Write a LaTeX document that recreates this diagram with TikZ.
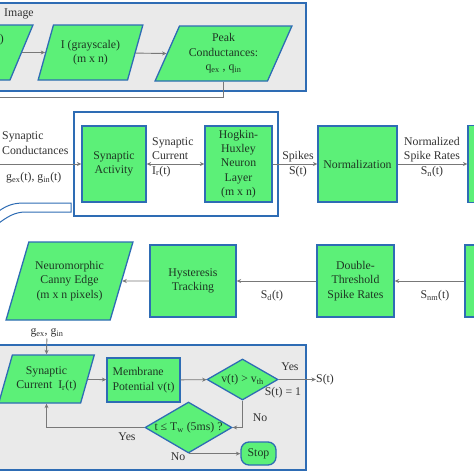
\documentclass[tikz,border=0pt]{standalone}
\usepackage{fontspec}
\setmainfont{Liberation Serif}
\usetikzlibrary{shapes.geometric,arrows.meta}
\definecolor{bgreen}{RGB}{92,240,120}
\definecolor{bblue}{RGB}{46,108,180}
\definecolor{pgray}{RGB}{234,234,234}
\definecolor{agray}{RGB}{120,120,120}
\definecolor{txtg}{RGB}{30,55,35}
\definecolor{txtd}{RGB}{50,50,50}
\tikzset{
  box/.style={rectangle, draw=bblue, fill=bgreen, line width=1.3pt, text=txtg, align=center, inner sep=0pt},
  para/.style={trapezium, trapezium stretches=true, trapezium left angle=64, trapezium right angle=116,
    draw=bblue, fill=bgreen, line width=1.3pt, text=txtg, align=center, inner sep=0pt},
  panel/.style={rectangle, draw=bblue, fill=pgray, line width=1.3pt, inner sep=0pt},
  grpbox/.style={rectangle, draw=bblue, line width=1.3pt, inner sep=0pt},
  arr/.style={draw=agray, line width=0.9pt, -{Stealth[length=4.5pt,width=4pt]}},
  darr/.style={draw=agray, line width=0.9pt, {Stealth[length=4.5pt,width=4pt]}-{Stealth[length=4.5pt,width=4pt]}},
  lnk/.style={draw=agray, line width=0.9pt},
  lbl/.style={text=txtd, align=center, inner sep=1pt},
  dia/.style={diamond, draw=bblue, fill=bgreen, line width=1.3pt, inner sep=0pt},
  stopbox/.style={rectangle, rounded corners=8pt, draw=bblue, fill=bgreen, line width=1.3pt, text=txtg, inner sep=0pt},
}
\begin{document}
\begin{tikzpicture}[x=1pt,y=-1pt,font=\fontsize{11.8}{14.4}\selectfont]
\useasboundingbox (0,0) rectangle (474,474);
\fill[white] (0,0) rectangle (474,474);

% ---------- top panel ----------
\node[panel, minimum width=316pt, minimum height=88pt] (ptop) at (148,47) {};
\node[lbl, anchor=west] (imglbl) at (3,14) {Image};
\node[para, minimum width=110pt, minimum height=55pt] (p0) at (-22,52.5) {\phantom{M}};
\node[lbl, text=txtg, anchor=east, inner sep=0pt] (p0txt) at (4,40) {)};
\node[para, minimum width=105pt, minimum height=55pt] (img) at (90.5,52.5) {I (grayscale)\\(m x n)};
\node[para, minimum width=137pt, minimum height=55pt] (peak) at (223.5,53.5) {Peak\\Conductances:\\q\textsubscript{ex} , q\textsubscript{in}};
\coordinate (offtop) at (-8,97);
\draw[arr] (p0) -- (img);
\draw[arr] (img) -- (peak.center -| peak.left side);
\draw[lnk] (peak.center |- peak.south) |- (offtop);

% ---------- row 2 ----------
\node[grpbox, minimum width=204pt, minimum height=104pt] (grp) at (176,164) {};
\node[box, minimum width=64pt, minimum height=76pt] (sa) at (114,164) {Synaptic\\Activity};
\node[box, minimum width=67pt, minimum height=76pt] (hh) at (238.5,164) {Hogkin-\\Huxley\\Neuron\\Layer\\(m x n)};
\node[box, minimum width=79pt, minimum height=76pt] (norm) at (357.5,164) {Normalization};
\node[box, minimum width=44pt, minimum height=77pt] (rb2) at (490,164) {};
\coordinate (inL) at (-8,164);
\draw[arr] (inL) -- (sa);
\draw[darr] (sa) -- (hh);
\draw[arr] (hh) -- (norm);
\draw[arr] (norm) -- (rb2);
\node[lbl, anchor=west, align=left] (sclbl) at (1,143) {Synaptic\\Conductances};
\node[lbl, anchor=west] (glbl) at (5,178) {g\textsubscript{ex}(t), g\textsubscript{in}(t)};
\node[lbl, anchor=west, align=left] (curlbl) at (151,157) {Synaptic\\Current\\I\textsubscript{r}(t)};
\node[lbl] (spklbl) at (298,164) {Spikes\\S(t)};
\node[lbl] (nsrlbl) at (432,157) {Normalized\\Spike Rates\\S\textsubscript{n}(t)};
\draw[bblue, line width=1pt, fill=white] (-5,214) .. controls (5,206) and (12,203) .. (24,203) -- (71,203) -- (71,212) -- (26,212) .. controls (15,212) and (8,216) .. (-5,226);

% ---------- row 3 ----------
\node[para, minimum width=127pt, minimum height=78pt] (canny) at (69.5,281) {Neuromorphic\\Canny Edge\\(m x n pixels)};
\node[box, minimum width=86pt, minimum height=72pt] (hyst) at (193,281) {Hysteresis\\Tracking};
\node[box, minimum width=77pt, minimum height=72pt] (dt) at (355.5,281) {Double-\\Threshold\\Spike Rates};
\node[box, minimum width=46pt, minimum height=72pt] (rb3) at (488,281) {};
\draw[arr] (rb3) -- (dt);
\draw[arr] (dt) -- (hyst);
\draw[arr] (hyst) -- (canny);
\node[lbl] (sdlbl) at (272,296) {S\textsubscript{d}(t)};
\node[lbl] (snmlbl) at (435,296) {S\textsubscript{nm}(t)};

% ---------- bottom panel ----------
\node[panel, minimum width=316pt, minimum height=125pt] (pbot) at (148,407.5) {};
\node[lbl] (gin) at (47,333) {g\textsubscript{ex}, g\textsubscript{in}};
\node[para, minimum width=96pt, minimum height=48pt] (sc) at (46.5,379) {Synaptic\\Current\enspace I\textsubscript{r}(t)};
\node[box, minimum width=73pt, minimum height=44pt, align=left] (mem) at (143.5,380) {Membrane\\Potential v(t)};
\node[dia, minimum width=71pt, minimum height=41pt] (d1) at (242.5,379.5) {};
\node[text=txtg, inner sep=0pt] (d1txt) at (d1) {v(t) > v\textsubscript{th}};
\node[dia, minimum width=87pt, minimum height=51pt] (d2) at (188.5,427.5) {};
\node[text=txtg, inner sep=0pt] (d2txt) at (d2) {t ≤ T\textsubscript{w} (5ms) ?};
\node[stopbox, minimum width=35pt, minimum height=23pt] (stop) at (258.5,453.5) {Stop};
\node[lbl, anchor=west, inner sep=0pt] (sout) at (316,379.5) {S(t)};
\draw[arr] (gin) -- (sc.center |- sc.north);
\draw[arr] (sc) -- (mem);
\draw[arr] (mem) -- (d1);
\draw[arr] (d1.east) -- (sout.west);
\draw[arr] (d1.south) |- (d2.east);
\draw[arr] (d2.west) -| (sc.center |- sc.south);
\draw[arr] (d2.south) -- (d2.south -| stop.west);
\node[lbl] (yes1) at (290,367) {Yes};
\node[lbl] (s1lbl) at (283,393) {S(t) = 1};
\node[lbl] (no1) at (260,418) {No};
\node[lbl] (yes2) at (127,437) {Yes};
\node[lbl] (no2) at (178,457) {No};
\end{tikzpicture}
\end{document}
